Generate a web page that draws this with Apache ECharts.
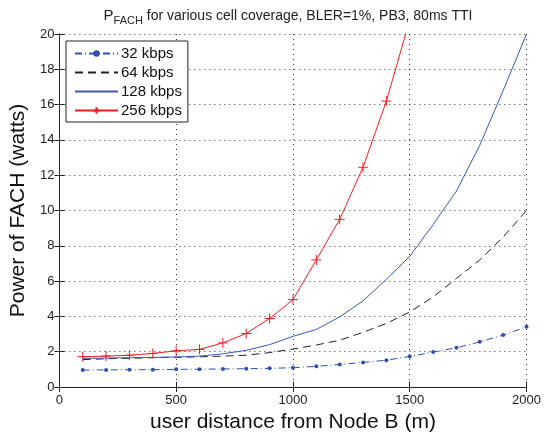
<!DOCTYPE html>
<html><head><meta charset="utf-8">
<script src="https://cdn.jsdelivr.net/npm/echarts@6/dist/echarts.min.js"></script>
<style>html,body{margin:0;padding:0;background:#fff}#c{width:544px;height:439px}</style>
</head><body><div id="c"></div>
<script>
const distances = [100,200,300,400,500,600,700,800,900,1000,1100,1200,1300,1400,1500,1600,1700,1800,1900,2000];
const s32  = [0.96,0.97,0.98,0.98,1.0,1.01,1.02,1.04,1.06,1.09,1.17,1.28,1.39,1.52,1.73,1.98,2.22,2.56,2.94,3.41];
const s64  = [1.55,1.6,1.63,1.66,1.68,1.71,1.75,1.8,1.95,2.15,2.38,2.65,3.1,3.6,4.25,5.1,6.15,7.2,8.5,10.0];
const s128 = [1.62,1.64,1.66,1.68,1.7,1.75,1.88,2.08,2.4,2.87,3.26,3.97,4.88,6.1,7.4,9.2,11.1,13.7,16.8,20.0];
const s256 = [1.72,1.75,1.8,1.9,2.05,2.13,2.5,3.03,3.88,4.95,7.2,9.5,12.45,16.2,20.8];
const seriesNames = ['32 kbps','64 kbps','128 kbps','256 kbps'];
const xTicks = {min:0,max:2000,interval:500};
const yTicks = {min:0,max:20,interval:2};

function pairs(vals){ return vals.map((v,i)=>[distances[i],v]); }
const FONT = 'Liberation Sans, Arial, sans-serif';
const chart = echarts.init(document.getElementById('c'), null, {renderer:'canvas'});
const gridLine = {show:true,lineStyle:{color:'#000',type:[1,4],width:1,opacity:0.8}};
chart.setOption({
  animation:false,
  backgroundColor:'#fff',
  title:{
    text:'{p|P}{sub|FACH}{t| for various cell coverage, BLER=1%, PB3, 80ms TTI}',
    left:283, top:1, textAlign:'center',
    textStyle:{fontWeight:'normal',rich:{
      p:{fontSize:15,fontFamily:FONT,color:'#222',fontWeight:'normal',lineHeight:20},
      sub:{fontSize:11,fontFamily:FONT,color:'#222',fontWeight:'normal',padding:[10,0,0,0],lineHeight:20},
      t:{fontSize:14,fontFamily:FONT,color:'#222',fontWeight:'normal',lineHeight:20}
    }}
  },
  grid:{left:58,right:14,top:34,bottom:52,containLabel:false},
  legend:{
    left:66, top:41, orient:'vertical', itemWidth:43, itemHeight:8, itemGap:4,
    padding:[5,6,4,8],
    borderColor:'#222', borderWidth:1, backgroundColor:'#fff',
    textStyle:{fontSize:15,fontFamily:FONT,color:'#111',padding:[0,0,0,-2]},
    data:[
      {name:seriesNames[0]},
      {name:seriesNames[1],itemStyle:{opacity:0}},
      {name:seriesNames[2],itemStyle:{opacity:0}},
      {name:seriesNames[3]}
    ]
  },
  xAxis:[{
    type:'value', min:xTicks.min, max:xTicks.max, interval:xTicks.interval,
    name:'user distance from Node B (m)', nameLocation:'middle', nameGap:25,
    nameTextStyle:{fontSize:21,fontFamily:FONT,color:'#111'},
    axisLine:{lineStyle:{color:'#222',width:1}},
    axisTick:{inside:true,length:5,lineStyle:{color:'#222'}},
    axisLabel:{fontSize:13,fontFamily:FONT,color:'#222',margin:7,formatter:v=>String(v)},
    splitLine:gridLine
  },{
    type:'value', position:'top', min:xTicks.min, max:xTicks.max, interval:xTicks.interval,
    axisLine:{show:true,lineStyle:{color:'#222',width:1}},
    axisTick:{inside:true,length:5,lineStyle:{color:'#222'}},
    axisLabel:{show:false}, splitLine:{show:false}
  }],
  yAxis:[{
    type:'value', min:yTicks.min, max:yTicks.max, interval:yTicks.interval,
    name:'Power of FACH (watts)', nameLocation:'middle', nameGap:29,
    nameTextStyle:{fontSize:21,fontFamily:FONT,color:'#111'},
    axisLine:{show:true,lineStyle:{color:'#222',width:1}},
    axisTick:{show:true,inside:true,length:5,lineStyle:{color:'#222'}},
    axisLabel:{fontSize:13,fontFamily:FONT,color:'#222',margin:5},
    splitLine:gridLine
  },{
    type:'value', position:'right', min:yTicks.min, max:yTicks.max, interval:yTicks.interval,
    axisLine:{show:true,lineStyle:{color:'#222',width:1}},
    axisTick:{show:true,inside:true,length:5,lineStyle:{color:'#222'}},
    axisLabel:{show:false}, splitLine:{show:false}
  }],
  series:[
    {name:seriesNames[0],type:'line',data:pairs(s32),symbol:'circle',symbolSize:4,showSymbol:true,
     lineStyle:{color:'#3050b0',width:1,type:[7,3,1,3]},itemStyle:{color:'#3050b0'}},
    {name:seriesNames[1],type:'line',data:pairs(s64),symbol:'none',
     lineStyle:{color:'#222',width:1,type:[8,5]},itemStyle:{color:'#444'}},
    {name:seriesNames[2],type:'line',data:pairs(s128),symbol:'none',
     lineStyle:{color:'#3a5ab8',width:1},itemStyle:{color:'#3a5ab8'}},
    {name:seriesNames[3],type:'line',data:pairs(s256),symbol:'path://M0,5L10,5M5,0L5,10',symbolSize:10,
     lineStyle:{color:'#f02020',width:1},itemStyle:{color:'#f02020',borderColor:'#f02020',borderWidth:1}}
  ]
});
</script></body></html>
